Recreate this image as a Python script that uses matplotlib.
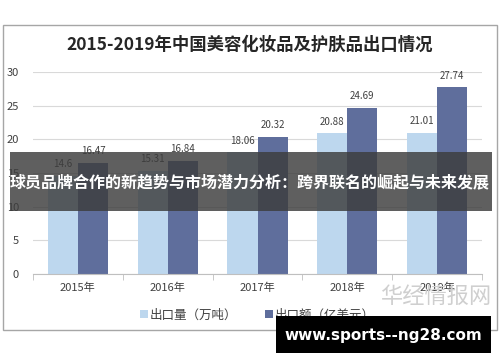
import numpy as np
import matplotlib
matplotlib.use("Agg")
import matplotlib.pyplot as plt
import matplotlib.patches as mpatches

plt.rcParams['font.family'] = ['Noto Sans CJK SC', 'DejaVu Sans']

# data
YEARS = ["2015年", "2016年", "2017年", "2018年", "2019年"]
VOLUME = [14.6, 15.31, 18.06, 20.88, 21.01]      # 出口量（万吨）
VALUE = [16.47, 16.84, 20.32, 24.69, 27.74]      # 出口额（亿美元）
VOLUME_LABELS = ["14.6", "15.31", "18.06", "20.88", "21.01"]
VALUE_LABELS = ["16.47", "16.84", "20.32", "24.69", "27.74"]

C_LIGHT = "#BDD7EE"
C_DARK = "#5F6E9C"

fig = plt.figure(figsize=(5.0, 3.62), dpi=100)
ax = fig.add_axes([0.066, 0.243, 0.898, 0.558])

x = np.arange(len(YEARS))
w = 0.335
b1 = ax.bar(x - w / 2, VOLUME, w, color=C_LIGHT, label="出口量（万吨）", zorder=2)
b2 = ax.bar(x + w / 2, VALUE, w, color=C_DARK, label="出口额（亿美元）", zorder=2)
for rect, lab in zip(b1, VOLUME_LABELS):
    ax.text(rect.get_x() + rect.get_width() / 2, rect.get_height() + 1.0, lab,
            ha="center", va="bottom", fontsize=7, color="#404040")
for rect, lab in zip(b2, VALUE_LABELS):
    ax.text(rect.get_x() + rect.get_width() / 2, rect.get_height() + 1.0, lab,
            ha="center", va="bottom", fontsize=7, color="#404040")

ax.set_xlim(-0.5, len(YEARS) - 0.5)
ax.set_ylim(0, 30)
ax.set_yticks([0, 5, 10, 15, 20, 25, 30])
ax.yaxis.grid(True, color="#D9D9D9", linewidth=0.8, zorder=0)
ax.set_axisbelow(True)
for s in ["top", "right", "left"]:
    ax.spines[s].set_visible(False)
ax.spines["bottom"].set_color("#BFBFBF")
ax.set_xticks(x)
ax.set_xticklabels(YEARS, fontsize=8, color="#404040")
ax.set_xticks(np.arange(-0.5, len(YEARS)), minor=True)
ax.tick_params(axis="x", which="major", length=0, pad=6)
ax.tick_params(axis="x", which="minor", length=4, color="#BFBFBF")
ax.tick_params(axis="y", length=0, labelsize=8, labelcolor="#404040", pad=10)

fig.text(0.5, 0.875, "2015-2019年中国美容化妆品及护肤品出口情况", ha="center", va="center",
         fontsize=12.5, fontweight="bold", color="#262626")

ax.legend(loc="upper center", bbox_to_anchor=(0.5, -0.115), ncol=2, frameon=False,
          fontsize=9, handlelength=0.6, handleheight=0.6, handletextpad=0.2,
          columnspacing=2.2, labelcolor="#404040")

# outer frame
fig.patches.append(mpatches.Rectangle((0.006, 0.088), 0.988, 0.843, transform=fig.transFigure,
                                      fill=False, edgecolor="#A6A6A6", linewidth=1.0))

# watermark text
fig.text(0.872, 0.18, "华经情报网", ha="center", va="center", fontsize=16,
         color="#CFCFCF")
fig.text(0.872, 0.11, "H U A O N . C O M", ha="center", va="center", fontsize=6.5,
         color="#C8C8C8")

# overlay banner
fig.patches.append(mpatches.Rectangle((0.02, 0.418), 0.964, 0.163, transform=fig.transFigure,
                                      facecolor="#3C3C3C", alpha=0.82, edgecolor="none", zorder=5))
fig.text(0.5, 0.497, "球员品牌合作的新趋势与市场潜力分析：跨界联名的崛起与未来发展",
         ha="center", va="center", fontsize=11.5, fontweight="bold", color="white", zorder=6)

# site box
fig.patches.append(mpatches.Rectangle((0.552, 0.025), 0.43, 0.103, transform=fig.transFigure,
                                      facecolor="black", edgecolor="none", zorder=5))
fig.text(0.767, 0.072, "www.sports--ng28.com", ha="center", va="center", fontsize=11,
         fontweight="bold", color="white", family=["DejaVu Sans"], zorder=6)

fig.savefig("out.png", dpi=100)
